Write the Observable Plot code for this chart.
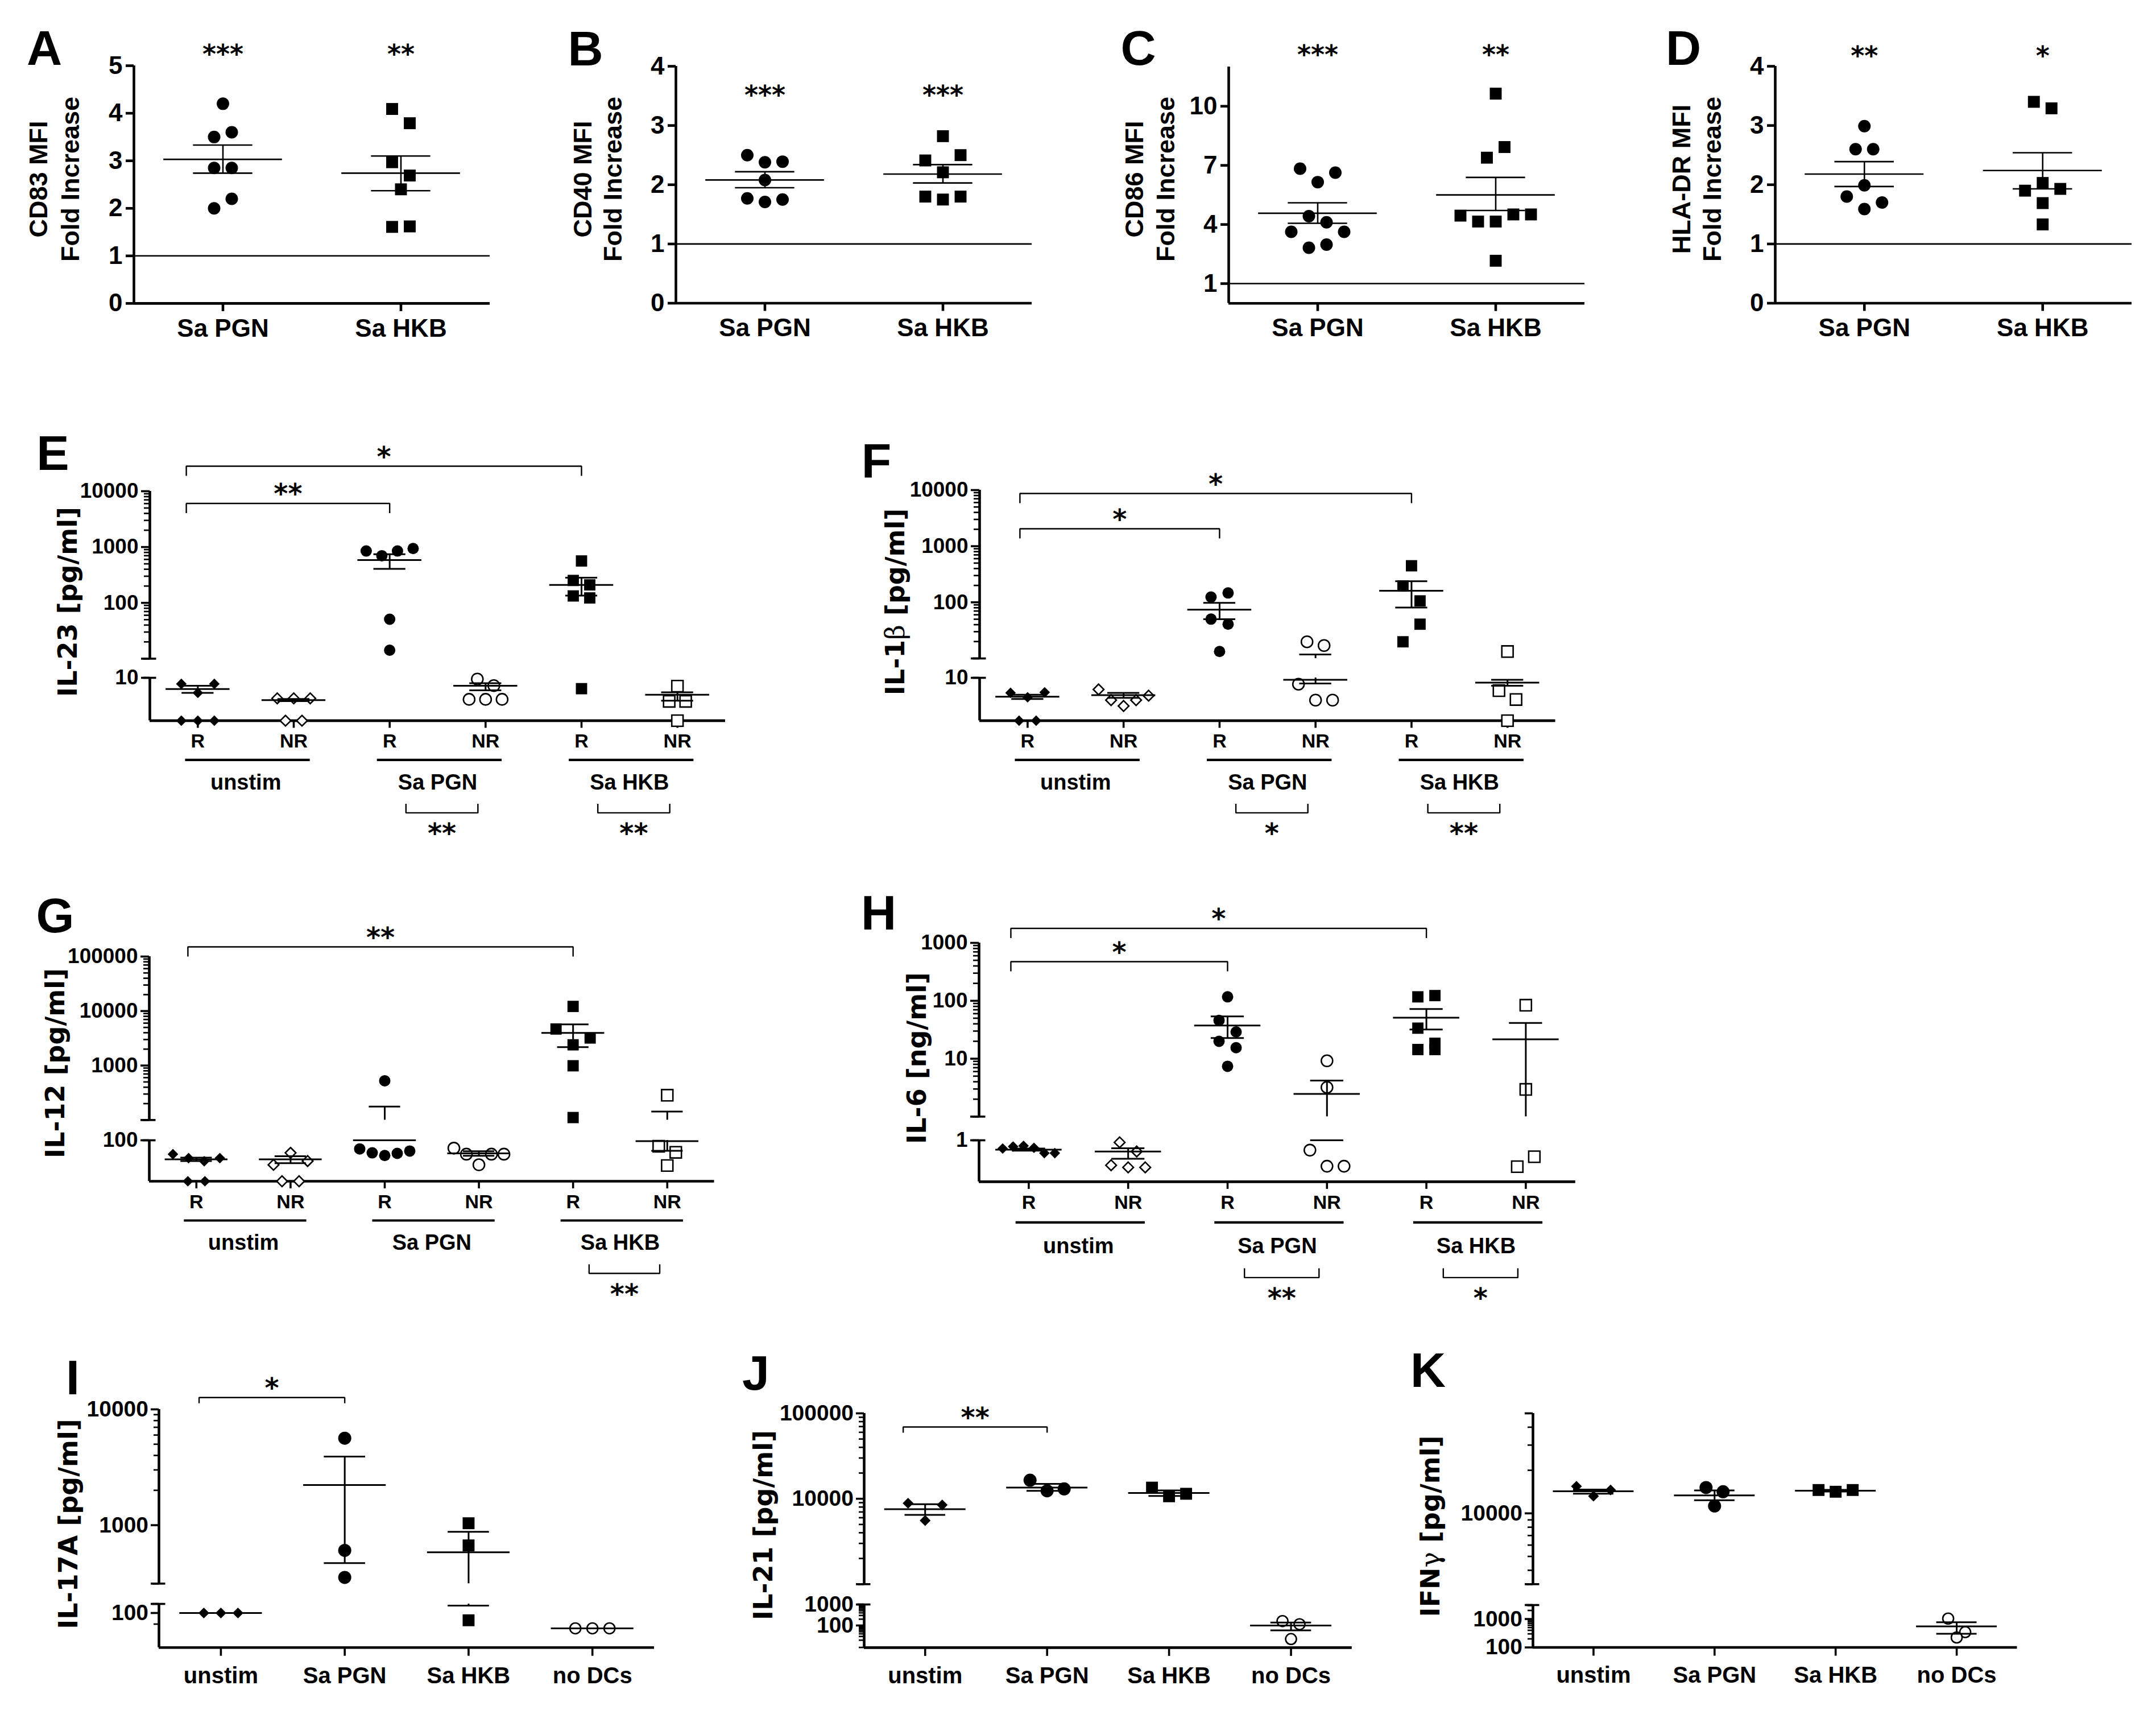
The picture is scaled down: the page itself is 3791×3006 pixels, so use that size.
<!DOCTYPE html>
<html>
<head>
<meta charset="utf-8">
<script src="https://cdn.jsdelivr.net/npm/d3@7"></script>
<script src="https://cdn.jsdelivr.net/npm/@observablehq/plot@0.6"></script>
<style>
  html, body { margin: 0; padding: 0; background: #fff; }
  #fig { position: relative; width: 3791px; height: 3006px; background: #fff; overflow: hidden; color: #000; }
  #fig svg { position: absolute; overflow: visible; max-width: none; }
  .lbl { position: absolute; white-space: pre; text-align: center; color: #000; }
</style>
</head>
<body>
<div id="fig"></div>
<script>
// ================= DATA =================
// Row 1: fold increase of MFI
const ROW1_GROUPS = ["Sa PGN", "Sa HKB"];
const A_PGN = [4.2, 3.5, 3.6, 2.85, 2.85, 2.0, 2.2];
const A_HKB = [4.09, 3.79, 2.97, 2.69, 2.40, 1.61, 1.62];
const A_MEAN = [3.03, 2.74], A_LO = [2.74, 2.37], A_HI = [3.33, 3.10];
const A_STARS = ["***", "**"];

const B_PGN = [2.50, 2.38, 2.39, 2.08, 1.77, 1.71, 1.75];
const B_HKB = [2.82, 2.41, 2.21, 2.50, 1.80, 1.75, 1.80];
const B_MEAN = [2.08, 2.18], B_LO = [1.95, 2.03], B_HI = [2.22, 2.34];
const B_STARS = ["***", "***"];

const C_PGN = [6.83, 6.15, 6.63, 3.63, 4.42, 4.11, 3.63, 2.82, 2.98];
const C_HKB = [10.64, 7.39, 7.93, 4.45, 4.15, 4.15, 4.51, 4.51, 2.16];
const C_MEAN = [4.57, 5.50], C_LO = [4.06, 4.71], C_HI = [5.10, 6.39];
const C_STARS = ["***", "**"];

const D_PGN = [2.99, 2.60, 2.60, 1.80, 1.99, 1.70, 1.59];
const D_HKB = [3.40, 3.29, 1.90, 2.03, 1.93, 1.69, 1.33];
const D_MEAN = [2.18, 2.24], D_LO = [1.97, 1.93], D_HI = [2.39, 2.54];
const D_STARS = ["**", "*"];

// Rows 2-3: R / NR under three conditions
const RNR_LABELS = ["R", "NR", "R", "NR", "R", "NR"];
const STIM_LABELS = ["unstim", "Sa PGN", "Sa HKB"];

const E_UNSTIM_R = [7.8, 5.4, 7.8, 1.72, 1.72, 1.72];
const E_UNSTIM_NR = [4.3, 4.3, 4.3, 1.72, 1.72];
const E_PGN_R = [850, 699, 850, 940, 51, 14.2];
const E_PGN_NR = [9.5, 7.25, 4.13, 4.13, 4.13];
const E_HKB_R = [563, 252, 210, 133, 122.5, 6.4];
const E_HKB_NR = [7.1, 3.8, 3.8, 1.72];
const E_MEAN = [6.3, 4.0, 584, 7.2, 210, 5.0];
const E_LO = [5.4, 3.85, 406, 6.0, 135, 3.9];
const E_HI = [7.2, 4.2, 742, 8.0, 283, 5.5];

const F_UNSTIM_R = [5.4, 4.5, 5.5, 1.72, 1.72];
const F_UNSTIM_NR = [6.2, 4.0, 3.15, 4.0, 4.8];
const F_PGN_R = [124, 147, 50.2, 40.8, 13.3];
const F_PGN_NR = [19.8, 17.0, 7.7, 4.0, 4.0];
const F_HKB_R = [448, 195, 106, 19.8, 40.8];
const F_HKB_NR = [13.3, 5.9, 4.1, 1.72];
const F_MEAN = [4.6, 4.9, 74, 9.2, 161, 8.2];
const F_LO = [4.2, 4.4, 50, 7.9, 80.7, 7.2];
const F_HI = [5.0, 5.4, 97.7, 11.8, 237, 9.2];

const G_UNSTIM_R = [55.6, 47.1, 41.2, 47.1, 17.7, 17.7];
const G_UNSTIM_NR = [35.4, 58.8, 41.6, 17.7, 17.7];
const G_PGN_R = [525, 69.4, 58.8, 52.6, 57.5, 63.5];
const G_PGN_NR = [71.7, 55.6, 35.5, 55.6, 55.6];
const G_HKB_R = [12150, 4680, 2400, 3200, 990, 111];
const G_HKB_NR = [285, 77.5, 60.1, 34.4];
const G_MEAN = [44.6, 44.6, 100, 57.5, 3960, 96.7];
const G_LO = [41.5, 38, null, 52, 2175, 64.2];
const G_HI = [48, 51, 177, 63, 5700, 143];

const H_UNSTIM_R = [0.72, 0.78, 0.80, 0.74, 0.60, 0.60];
const H_UNSTIM_NR = [0.92, 0.64, 0.37, 0.34, 0.34];
const H_PGN_R = [117, 46, 29, 20, 15.5, 7.4];
const H_PGN_NR = [9.2, 3.2, 0.675, 0.356, 0.356];
const H_HKB_R = [117, 123, 33.7, 18.5, 14.4, 14.4];
const H_HKB_NR = [84, 2.95, 0.35, 0.52];
const H_MEAN = [0.69, 0.64, 37.4, 2.46, 51, 21.6];
const H_LO = [0.66, 0.48, 22.8, 1.0, 32, null];
const H_HI = [0.72, 0.73, 53.8, 4.2, 72, 41.5];

// Row 4: T-cell cytokines
const ROW4_LABELS = ["unstim", "Sa PGN", "Sa HKB", "no DCs"];
const I_UNSTIM = [100, 100, 100], I_PGN = [5636, 606, 354], I_HKB = [1039, 669, 86.4], I_NODC = [73.5, 73.5, 73.5];
const I_MEAN = [100, 2221, 583, 73.5], I_LO = [100, 470, 116, 73.5], I_HI = [100, 3908, 876, 73.5];
const J_UNSTIM = [8867, 5562, 8453], J_PGN = [16496, 12385, 13050], J_HKB = [13500, 10690, 11440], J_NODC = [162, 115, 22.6];
const J_MEAN = [7558, 13506, 11665, 100], J_LO = [6475, 12385, 10800, 58.5], J_HI = [8640, 14930, 12500, 138];
const K_UNSTIM = [15450, 13190, 14560], K_PGN = [15150, 11260, 14160], K_HKB = [14560, 14160, 14560], K_NODC = [1037, 346, 224];
const K_MEAN = [14280, 13360, 14400, 549], K_LO = [13730, 12340, 14200, 301], K_HI = [14680, 14450, 14600, 769];

// ================= STYLE =================
const F_NARROW = '"Liberation Sans Narrow","Liberation Sans",Arial,sans-serif';
const F_SANS = '"Liberation Sans",Arial,sans-serif';
const F_DV = '"DejaVu Sans",Verdana,sans-serif';

const SH1 = [["circle", false], ["square", false]];
const SH23 = [["diamond2", false], ["diamond2", true], ["circle", false], ["circle", true], ["square", false], ["square", true]];
const SH4 = [["diamond2", false], ["circle", false], ["square", false], ["circle", true]];

const S1 = {ml: 170, mr: 20, mt: 130, mb: 110, axisW: 4.6, tickW: 4.6, tickSize: 14, xTickSize: 14, minorSize: 8, minorW: 3,
  yPad: 6, xPad: 13, yFont: F_NARROW, yFontSize: 44, xFont: F_NARROW, xFontSize: 44, lineW: 2.6, meanW: 1 / 3, capW: 1 / 6,
  r: {circle: 11, square: 11.8, diamond2: 10}, rOpen: 11, openW: 2.6, spacing: 31, binPx: 31, maxRow: 220,
  starFont: F_DV, starSize: 46, bracketW: 2.4, endLen: 17, starGap: 35, catFont: F_SANS, catFontSize: 38, capHalf: 11.5};
const S23 = Object.assign({}, S1, {mb: 240, tickSize: 15, xTickSize: 13, minorSize: 10, tickW: 3.6, minorW: 2.7,
  yPad: 5, xPad: 10, yFont: F_SANS, yFontSize: 37, xFont: F_SANS, xFontSize: 34, lineW: 3,
  r: {circle: 10, square: 11.2, diamond2: 8.4}, rOpen: 10, spacing: 30, maxRow: 110,
  starSize: 48, bottomOff: {under: 69, cat: 94, brEnd: 146, brLine: 162, brStar: 180}});
const S4 = Object.assign({}, S1, {tickSize: 14, xTickSize: 15, minorSize: 9, tickW: 3.6, minorW: 2.7, yPad: 4.5, xPad: 19,
  yFont: F_SANS, yFontSize: 39, xFont: F_SANS, xFontSize: 40, lineW: 3,
  r: {circle: 11.5, square: 11.8, diamond2: 8.6}, rOpen: 9.5, spacing: 30, maxRow: 110,
  starSize: 48, endLen: 10});

const fig = document.getElementById("fig");

// ================= HELPERS =================
function minorTicks(lo, hi) {
  const out = [];
  for (let k = Math.floor(Math.log10(lo)); k <= Math.ceil(Math.log10(hi)); k++) {
    for (let m = 2; m <= 9; m++) {
      const v = m * Math.pow(10, k);
      if (v > lo * 1.0001 && v < hi * 0.9999) out.push(v);
    }
  }
  return out;
}

// GraphPad-like column scatter: points binned into rows by pixel height, each row centred.
function dodgeRows(vals, py, binPx, spacing, maxRow) {
  const n = vals.length;
  const P = vals.map(py);
  const order = d3.range(n).sort((a, b) => (P[a] - P[b]) || (a - b));
  const off = new Array(n).fill(0);
  let row = [], start = -Infinity;
  const flush = () => {
    if (!row.length) return;
    row.sort((a, b) => a - b);
    const m = row.length, s = Math.min(spacing, maxRow / m);
    row.forEach((k, j) => { off[k] = (j - (m - 1) / 2) * s; });
  };
  for (const i of order) {
    if (P[i] - start > binPx) { flush(); row = [i]; start = P[i]; }
    else row.push(i);
  }
  flush();
  return off;
}

function groupsFrom(valsArr, mean, lo, hi, shapes) {
  return valsArr.map((vals, i) => ({vals, mean: mean[i], lo: lo[i], hi: hi[i], shape: shapes[i][0], open: shapes[i][1]}));
}

function htmlText(html, cx, cy, o) {
  const d = document.createElement("div");
  d.className = "lbl";
  d.style.left = cx + "px";
  d.style.top = cy + "px";
  d.style.fontFamily = o.family;
  d.style.fontWeight = o.weight || "bold";
  d.style.fontSize = o.size + "px";
  d.style.lineHeight = o.lineHeight || "1";
  d.style.transform = `translate(-50%,-50%) rotate(${o.rotate || 0}deg)`;
  d.innerHTML = html;
  fig.appendChild(d);
}

function drawPanel(P, st) {
  const segs = P.segs, nS = segs.length;
  const W = P.right - P.left;
  const ppu = W / (P.xDomain[1] - P.xDomain[0]);
  const scales = segs.map(s => Plot.scale({y: {type: s.type, domain: s.domain, range: [s.bottom, s.top]}}));
  const segOf = v => (nS === 2 && v <= segs[1].domain[1] * (1 + 1e-9)) ? 1 : 0;
  const inSeg = (v, i) => {
    if (v == null || !isFinite(v)) return false;
    const s = segs[i];
    if (s.type === "log" && v <= 0) return false;
    if (segOf(v) !== i) return false;
    const [a, b] = s.domain;
    return v >= a - 1e-9 * Math.max(1, Math.abs(a)) && v <= b + 1e-9 * Math.max(1, Math.abs(b));
  };
  const nG = P.groups.length;
  const pts = [];
  P.groups.forEach((g, gi) => {
    const py = v => scales[segOf(v)].apply(v);
    const off = dodgeRows(g.vals, py, P.binPx || st.binPx, P.spacing || st.spacing, st.maxRow);
    g.vals.forEach((v, k) => pts.push({gi, v, x: gi + off[k] / ppu, seg: segOf(v), shape: g.shape, open: g.open}));
  });

  segs.forEach((s, si) => {
    const isTop = si === 0, isBottom = si === nS - 1;
    const mt = isTop ? st.mt : 4, mb = isBottom ? st.mb : 4;
    const width = st.ml + W + st.mr;
    const height = mt + (s.bottom - s.top) + mb;
    const sc = scales[si];
    const inv = py => sc.invert(py);
    const x0 = P.xDomain[0];
    const marks = [];

    // axis lines
    marks.push(Plot.ruleX([x0], {x: d => d, strokeWidth: st.axisW}));
    if (isBottom) marks.push(Plot.ruleY([s.domain[0]], {y: d => d, strokeWidth: st.axisW}));
    if (P.refLine != null) marks.push(Plot.ruleY([P.refLine], {y: d => d, strokeWidth: st.lineW}));
    // caps at the break of a two-segment axis
    if (nS === 2) {
      const capV = isTop ? s.domain[0] : s.domain[1];
      marks.push(Plot.ruleY([capV], {y: d => d, x1: x0 - st.capHalf / ppu, x2: x0 + st.capHalf / ppu, strokeWidth: st.tickW}));
    }

    // y ticks
    marks.push(Plot.axisY({ticks: s.labeled, tickSize: st.tickSize, tickPadding: st.yPad, tickFormat: d => String(d),
      strokeWidth: st.tickW, fontSize: st.yFontSize, fontFamily: st.yFont, fontWeight: "bold", label: null}));
    if (s.end) marks.push(Plot.axisY({ticks: s.end, tickSize: st.tickSize, tickFormat: () => "", strokeWidth: st.tickW, label: null}));
    if (s.minor) marks.push(Plot.axisY({ticks: s.minor, tickSize: st.minorSize, tickFormat: () => "", strokeWidth: st.minorW, label: null}));

    // x ticks
    if (isBottom) marks.push(Plot.axisX({ticks: d3.range(nG), tickFormat: i => P.tickLabels[i], tickSize: st.xTickSize,
      tickPadding: st.xPad, strokeWidth: st.tickW, fontSize: st.xFontSize, fontFamily: st.xFont, fontWeight: "bold", label: null}));

    // points
    const segPts = pts.filter(p => p.seg === si);
    for (const shape of ["circle", "square", "diamond2"]) {
      for (const open of [false, true]) {
        const sub = segPts.filter(p => p.shape === shape && p.open === open);
        if (!sub.length) continue;
        const r = open && shape === "circle" ? st.rOpen : st.r[shape];
        marks.push(Plot.dot(sub, {x: "x", y: "v", symbol: shape, r,
          fill: open ? "white" : "black", stroke: open ? "black" : "none", strokeWidth: open ? st.openW : 0}));
      }
    }

    // mean and SEM
    const meanRows = [], capRows = [], vertRows = [];
    P.groups.forEach((g, gi) => {
      if (inSeg(g.mean, si)) meanRows.push({gi, y: g.mean});
      if (g.lo > 0 && inSeg(g.lo, si)) capRows.push({gi, y: g.lo});
      if (inSeg(g.hi, si)) capRows.push({gi, y: g.hi});
      const loEff = g.lo > 0 ? g.lo : segs[0].domain[0];
      const [a, b] = s.domain;
      const y1 = Math.max(loEff, a), y2 = Math.min(g.hi, b);
      if (y2 > y1) vertRows.push({gi, y1, y2});
    });
    marks.push(Plot.ruleX(vertRows, {x: "gi", y1: "y1", y2: "y2", strokeWidth: st.lineW}));
    marks.push(Plot.ruleY(capRows, {y: "y", x1: d => d.gi - st.capW, x2: d => d.gi + st.capW, strokeWidth: st.lineW}));
    marks.push(Plot.ruleY(meanRows, {y: "y", x1: d => d.gi - st.meanW, x2: d => d.gi + st.meanW, strokeWidth: st.lineW}));

    const starOpts = {fontFamily: st.starFont, fontWeight: "bold", lineAnchor: "top", textAnchor: "middle", fontSize: st.starSize};

    // significance stars above groups (row 1)
    if (isTop && P.stars) {
      marks.push(Plot.text(P.stars.map((t, i) => ({i, t, y: inv(P.starTop)})),
        Object.assign({x: "i", y: "y", text: "t"}, starOpts)));
    }
    // brackets above
    if (isTop && P.brackets) {
      const br = [], lab = [];
      P.brackets.forEach((b, k) => {
        const yl = s.top + b.level, ye = yl + st.endLen;
        const x1 = b.from - P.leftPad, x2 = b.to;
        br.push({id: k, x: x1, y: inv(ye)}, {id: k, x: x1, y: inv(yl)}, {id: k, x: x2, y: inv(yl)}, {id: k, x: x2, y: inv(ye)});
        lab.push({x: (x1 + x2) / 2, y: inv(yl - st.starGap), t: b.label});
      });
      marks.push(Plot.line(br, {x: "x", y: "y", z: "id", strokeWidth: st.bracketW, strokeLinejoin: "miter", strokeLinecap: "butt"}));
      marks.push(Plot.text(lab, Object.assign({x: "x", y: "y", text: "t"}, starOpts)));
    }
    // condition labels, underlines and bottom brackets (rows 2-3)
    if (isBottom && P.cats) {
      const off = P.bottomOff || st.bottomOff;
      const cats = P.cats.map((c, k) => ({k, c}));
      marks.push(Plot.ruleY(cats, {y: () => inv(s.bottom + off.under), x1: d => 2 * d.k - 0.13, x2: d => 2 * d.k + 1.17, strokeWidth: 4.2}));
      marks.push(Plot.text(cats, {x: d => 2 * d.k + 0.5, y: () => inv(s.bottom + off.cat), text: "c",
        fontFamily: st.catFont, fontWeight: "bold", fontSize: st.catFontSize, lineAnchor: "top", textAnchor: "middle"}));
      if (P.bottomBrackets) {
        const br = [], lab = [];
        P.bottomBrackets.forEach((b, k) => {
          const x1 = 2 * b.cat + 0.17, x2 = 2 * b.cat + 0.92;
          const ye = inv(s.bottom + off.brEnd), yl = inv(s.bottom + off.brLine);
          br.push({id: k, x: x1, y: ye}, {id: k, x: x1, y: yl}, {id: k, x: x2, y: yl}, {id: k, x: x2, y: ye});
          lab.push({x: (x1 + x2) / 2, y: inv(s.bottom + off.brStar), t: b.label});
        });
        marks.push(Plot.line(br, {x: "x", y: "y", z: "id", strokeWidth: st.bracketW, strokeLinejoin: "miter", strokeLinecap: "butt"}));
        marks.push(Plot.text(lab, Object.assign({x: "x", y: "y", text: "t"}, starOpts)));
      }
    }

    const svg = Plot.plot({
      width, height,
      marginLeft: st.ml, marginRight: st.mr, marginTop: mt, marginBottom: mb,
      x: {type: "linear", domain: P.xDomain, axis: null},
      y: {type: s.type, domain: s.domain, axis: null},
      style: {background: "transparent", overflow: "visible", color: "black", fontWeight: "bold", fontFamily: st.yFont},
      marks
    });
    svg.style.left = (P.left - st.ml) + "px";
    svg.style.top = (s.top - mt) + "px";
    fig.appendChild(svg);
  });
}

// ================= ROW 1 =================
function row1(spec) {
  drawPanel({
    left: spec.left, right: spec.right, xDomain: [-0.5, 1.5],
    segs: [{top: spec.top, bottom: spec.bottom, type: "linear", domain: spec.domain, labeled: spec.labeled}],
    groups: groupsFrom([spec.pgn, spec.hkb], spec.mean, spec.lo, spec.hi, SH1),
    tickLabels: ROW1_GROUPS, refLine: 1, stars: spec.stars, starTop: spec.starTop
  }, S1);
}
row1({left: 235, right: 861, top: 114.6, bottom: 532.5, domain: [0, 5], labeled: [0, 1, 2, 3, 4, 5],
  pgn: A_PGN, hkb: A_HKB, mean: A_MEAN, lo: A_LO, hi: A_HI, stars: A_STARS, starTop: 77});
row1({left: 1188, right: 1814, top: 116, bottom: 532.5, domain: [0, 4], labeled: [0, 1, 2, 3, 4],
  pgn: B_PGN, hkb: B_HKB, mean: B_MEAN, lo: B_LO, hi: B_HI, stars: B_STARS, starTop: 150});
row1({left: 2160, right: 2786, top: 117.3, bottom: 533, domain: [0, 12], labeled: [1, 4, 7, 10],
  pgn: C_PGN, hkb: C_HKB, mean: C_MEAN, lo: C_LO, hi: C_HI, stars: C_STARS, starTop: 79});
row1({left: 3121, right: 3748, top: 116, bottom: 532.5, domain: [0, 4], labeled: [0, 1, 2, 3, 4],
  pgn: D_PGN, hkb: D_HKB, mean: D_MEAN, lo: D_LO, hi: D_HI, stars: D_STARS, starTop: 81});

// ================= ROWS 2-3 =================
drawPanel({
  left: 263, right: 1275, xDomain: [-0.5, 5.5], binPx: 22, spacing: 29,
  segs: [
    {top: 862.6, bottom: 1157, type: "log", domain: [10, 10000], labeled: [100, 1000, 10000], end: [10], minor: minorTicks(10, 10000)},
    {top: 1190.8, bottom: 1266.2, type: "log", domain: [1.72, 10], labeled: [10]}
  ],
  groups: groupsFrom([E_UNSTIM_R, E_UNSTIM_NR, E_PGN_R, E_PGN_NR, E_HKB_R, E_HKB_NR], E_MEAN, E_LO, E_HI, SH23),
  tickLabels: RNR_LABELS, cats: STIM_LABELS, leftPad: 0.12,
  brackets: [{from: 0, to: 4, label: "*", level: -44}, {from: 0, to: 2, label: "**", level: 21.5}],
  bottomBrackets: [{cat: 1, label: "**"}, {cat: 2, label: "**"}]
}, S23);

drawPanel({
  left: 1722.4, right: 2735, xDomain: [-0.5, 5.5],
  segs: [
    {top: 861, bottom: 1157, type: "log", domain: [10, 10000], labeled: [100, 1000, 10000], end: [10], minor: minorTicks(10, 10000)},
    {top: 1190.8, bottom: 1266.2, type: "log", domain: [1.72, 10], labeled: [10]}
  ],
  groups: groupsFrom([F_UNSTIM_R, F_UNSTIM_NR, F_PGN_R, F_PGN_NR, F_HKB_R, F_HKB_NR], F_MEAN, F_LO, F_HI, SH23),
  tickLabels: RNR_LABELS, cats: STIM_LABELS, leftPad: 0.08,
  brackets: [{from: 0, to: 4, label: "*", level: 6}, {from: 0, to: 2, label: "*", level: 68}],
  bottomBrackets: [{cat: 1, label: "*"}, {cat: 2, label: "**"}]
}, S23);

drawPanel({
  left: 261.6, right: 1255.2, xDomain: [-0.5, 5.5],
  segs: [
    {top: 1681, bottom: 1968.4, type: "log", domain: [100, 100000], labeled: [1000, 10000, 100000], end: [100], minor: minorTicks(100, 100000)},
    {top: 2004, bottom: 2076, type: "log", domain: [17.7, 100], labeled: [100]}
  ],
  groups: groupsFrom([G_UNSTIM_R, G_UNSTIM_NR, G_PGN_R, G_PGN_NR, G_HKB_R, G_HKB_NR], G_MEAN, G_LO, G_HI, SH23),
  tickLabels: RNR_LABELS, cats: STIM_LABELS, leftPad: 0.09,
  brackets: [{from: 0, to: 4, label: "**", level: -17}],
  bottomBrackets: [{cat: 2, label: "**"}]
}, S23);

drawPanel({
  left: 1721.2, right: 2770, xDomain: [-0.5, 5.5],
  segs: [
    {top: 1657, bottom: 1962.4, type: "log", domain: [1, 1000], labeled: [10, 100, 1000], end: [1], minor: minorTicks(1, 1000)},
    {top: 2004, bottom: 2076.9, type: "log", domain: [0.192, 1], labeled: [1]}
  ],
  groups: groupsFrom([H_UNSTIM_R, H_UNSTIM_NR, H_PGN_R, H_PGN_NR, H_HKB_R, H_HKB_NR], H_MEAN, H_LO, H_HI, SH23),
  tickLabels: RNR_LABELS, cats: STIM_LABELS, leftPad: 0.18,
  bottomOff: {under: 71.5, cat: 99, brEnd: 152, brLine: 168.5, brStar: 187},
  brackets: [{from: 0, to: 4, label: "*", level: -25.5}, {from: 0, to: 2, label: "*", level: 33}],
  bottomBrackets: [{cat: 1, label: "**"}, {cat: 2, label: "*"}]
}, S23);

// ================= ROW 4 =================
drawPanel({
  left: 278.9, right: 1150, xDomain: [-0.5, 3.5],
  segs: [
    {top: 2476.5, bottom: 2782.8, type: "log", domain: [313, 10000], labeled: [1000, 10000], end: [313], minor: minorTicks(1000, 10000)},
    {top: 2818.8, bottom: 2895.5, type: "log", domain: [50, 120], labeled: [100], end: [120], minor: [80]}
  ],
  groups: groupsFrom([I_UNSTIM, I_PGN, I_HKB, I_NODC], I_MEAN, I_LO, I_HI, SH4),
  tickLabels: ROW4_LABELS, leftPad: 0.176,
  brackets: [{from: 0, to: 1, label: "*", level: -20.8}]
}, S4);

drawPanel({
  left: 1519.2, right: 2377, xDomain: [-0.5, 3.5],
  segs: [
    {top: 2483.8, bottom: 2784.1, type: "log", domain: [1000, 100000], labeled: [10000, 100000], end: [1000], minor: minorTicks(1000, 100000)},
    {top: 2819.6, bottom: 2895.5, type: "log", domain: [8.8, 1000], labeled: [100, 1000], minor: minorTicks(8.8, 1000)}
  ],
  groups: groupsFrom([J_UNSTIM, J_PGN, J_HKB, J_NODC], J_MEAN, J_LO, J_HI, SH4),
  tickLabels: ROW4_LABELS, leftPad: 0.18,
  brackets: [{from: 0, to: 1, label: "**", level: 24}]
}, S4);

drawPanel({
  left: 2695.4, right: 3546.9, xDomain: [-0.5, 3.5],
  segs: [
    {top: 2483.8, bottom: 2784.1, type: "log", domain: [3200, 50000], labeled: [10000], end: [3200, 50000], minor: minorTicks(3200, 50000)},
    {top: 2821, bottom: 2895.5, type: "log", domain: [100, 3100], labeled: [100, 1000], end: [3100], minor: minorTicks(100, 3100)}
  ],
  groups: groupsFrom([K_UNSTIM, K_PGN, K_HKB, K_NODC], K_MEAN, K_LO, K_HI, SH4),
  tickLabels: ROW4_LABELS, leftPad: 0
}, S4);

// ================= PANEL LETTERS & AXIS TITLES =================
const LETTERS = [["A", 78, 83.5], ["B", 1029.5, 84.5], ["C", 2001.5, 83.5], ["D", 2960, 83.5],
  ["E", 93, 796], ["F", 1541, 810], ["G", 97, 1608.5], ["H", 1545, 1604],
  ["I", 128, 2421], ["J", 1329, 2413], ["K", 2511, 2408]];
LETTERS.forEach(([t, x, y]) => htmlText(t, x, y, {size: 86, family: F_NARROW}));

htmlText("CD83 MFI\nFold Increase", 96, 315, {size: 45, family: F_SANS, rotate: -90, lineHeight: "56px"});
htmlText("CD40 MFI\nFold Increase", 1050.5, 315, {size: 45, family: F_SANS, rotate: -90, lineHeight: "53px"});
htmlText("CD86 MFI\nFold Increase", 2021.5, 315, {size: 45, family: F_SANS, rotate: -90, lineHeight: "55px"});
htmlText("HLA-DR MFI\nFold Increase", 2984, 315, {size: 45, family: F_SANS, rotate: -90, lineHeight: "54px"});

const GREEK = 'style="font-weight:normal;font-family:\'DejaVu Serif\',serif"';
htmlText("IL-23 [pg/ml]", 119, 1058, {size: 46, family: F_DV, rotate: -90});
htmlText(`IL-1<span ${GREEK}>β</span> [pg/ml]`, 1573.6, 1058, {size: 46, family: F_DV, rotate: -90});
htmlText("IL-12 [pg/ml]", 97, 1869, {size: 46, family: F_DV, rotate: -90});
htmlText("IL-6 [ng/ml]", 1612, 1860, {size: 46, family: F_DV, rotate: -90});
htmlText("IL-17A [pg/ml]", 120, 2679, {size: 46, family: F_DV, rotate: -90});
htmlText("IL-21 [pg/ml]", 1342, 2681, {size: 46, family: F_DV, rotate: -90});
htmlText(`IFN<span ${GREEK}>γ</span> [pg/ml]`, 2515, 2683, {size: 46, family: F_DV, rotate: -90});
</script>
</body>
</html>
